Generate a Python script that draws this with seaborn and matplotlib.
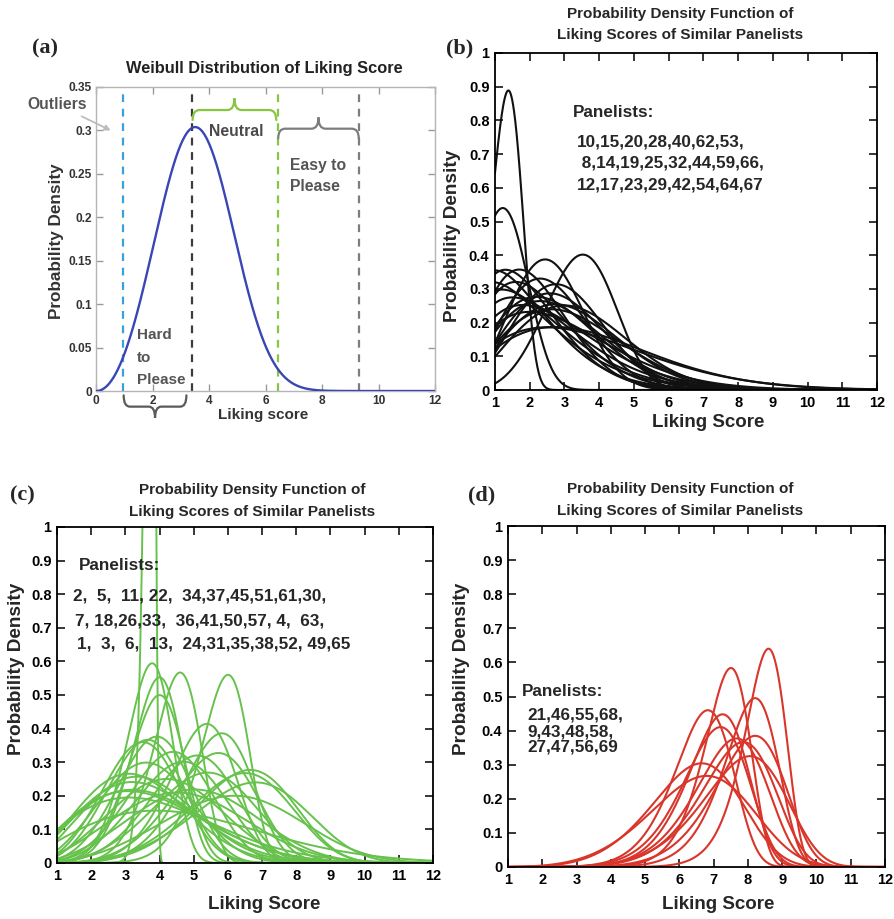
import numpy as np
import pandas as pd
import matplotlib
matplotlib.use("Agg")
import matplotlib.pyplot as plt
import seaborn as sns
from matplotlib.path import Path
from matplotlib.patches import PathPatch

# ---------------- data (Weibull parameters) ----------------
# (a) single Weibull curve and the cut-off lines
a_shape = [3.1]
a_scale = [3.98]
a_cut_x = [0.94, 3.39, 6.45, 9.3]
a_cut_colors = ["#3aa0d8", "#3c3c3c", "#88c540", "#7d7d7d"]
a_xticks = [0, 2, 4, 6, 8, 10, 12]
a_yticks = [0, 0.05, 0.1, 0.15, 0.2, 0.25, 0.3, 0.35]
a_ytick_labels = ["0", "0.05", "0.1", "0.15", "0.2", "0.25", "0.3", "0.35"]

# (b) hard-to-please cluster
b_shape = [6.0, 4.0, 4.0, 2.8, 2.0, 1.7, 1.5, 2.35, 2.6, 1.6, 2.0, 1.68,
           2.05, 1.7, 1.8, 1.5, 1.7, 1.4, 2.0, 1.8, 2.33, 2.3, 2.2]
b_scale = [2.52, 2.82, 3.79, 2.86, 2.40, 2.19, 2.10, 2.91, 3.32, 2.77, 3.25, 3.08,
           3.64, 3.37, 4.30, 2.50, 4.20, 2.30, 3.10, 2.51, 3.81, 3.30, 3.60]
b_loc = [-1.06, -1.40] + [0.0] * 21
b_panelists = ["10,15,20,28,40,62,53,", " 8,14,19,25,32,44,59,66,", "12,17,23,29,42,54,64,67"]

# (c) neutral cluster
c_shape = [28.0, 6.2, 7.17, 9.2, 6.1, 5.54, 6.15, 6.2, 4.15, 3.8, 5.2, 5.12, 4.85,
           2.58, 2.38, 4.0, 4.57, 4.1, 2.5, 2.2, 2.0, 2.0, 3.18, 3.06, 4.57, 3.13,
           4.1, 2.12, 2.8, 3.54, 3.6]
c_scale = [3.75, 3.89, 4.70, 6.08, 4.12, 4.15, 5.54, 5.99, 4.19, 3.96, 5.96, 6.94, 6.82,
           4.03, 4.03, 5.05, 5.39, 4.71, 3.8, 4.2, 4.4, 5.5, 5.65, 4.78, 7.19, 4.08,
           5.79, 4.17, 5.29, 6.8, 3.84]
c_panelists = ["2,  5,  11, 22,  34,37,45,51,61,30,",
               "7, 18,26,33,  36,41,50,57, 4,  63,",
               "1,  3,  6,  13,  24,31,35,38,52, 49,65"]

# (d) easy-to-please cluster
d_shape = [15.0, 11.95, 11.1, 8.6, 8.9, 8.1, 8.65, 7.93, 7.9, 7.2, 5.6, 5.05]
d_scale = [8.64, 7.56, 8.28, 6.93, 7.36, 7.32, 8.33, 7.80, 8.0, 8.23, 6.89, 7.1]
d_panelists = ["21,46,55,68,", "9,43,48,58,", "27,47,56,69"]

x_ticks = list(range(1, 13))
y_ticks = [0, 0.1, 0.2, 0.3, 0.4, 0.5, 0.6, 0.7, 0.8, 0.9, 1.0]
y_tick_labels = ["0", "0.1", "0.2", "0.3", "0.4", "0.5", "0.6", "0.7", "0.8", "0.9", "1"]

TITLE1 = "Probability Density Function of"
TITLE2 = "Liking Scores of Similar Panelists"

# ---------------- helpers ----------------
W, H = 894, 919


def fx(p):
    return p / W


def fy(p):
    return 1 - p / H


def axes_rect(l, t, r, b):
    return [fx(l), fy(b), (r - l) / W, (b - t) / H]


def weibull_pdf(x, k, lam, loc=0.0):
    z = np.clip((x - loc) / lam, 0, None)
    return np.where(x > loc, (k / lam) * z ** (k - 1) * np.exp(-z ** k), 0.0)


def curves_frame(shapes, scales, locs, x):
    parts = []
    for i, (k, lam, loc) in enumerate(zip(shapes, scales, locs)):
        parts.append(pd.DataFrame({"Liking Score": x,
                                   "Probability Density": weibull_pdf(x, k, lam, loc),
                                   "curve": i}))
    return pd.concat(parts, ignore_index=True)


def brace(ax, x0, x1, y_end, y_flat, y_tip, d, color, lw=1.6):
    xm = 0.5 * (x0 + x1)
    verts = [(x0, y_end), (x0, y_flat), (x0 + d, y_flat),
             (xm - d, y_flat), (xm, y_flat), (xm, y_tip),
             (xm, y_flat), (xm + d, y_flat),
             (x1 - d, y_flat), (x1, y_flat), (x1, y_end)]
    codes = [Path.MOVETO, Path.CURVE3, Path.CURVE3,
             Path.LINETO, Path.CURVE3, Path.CURVE3,
             Path.CURVE3, Path.CURVE3,
             Path.LINETO, Path.CURVE3, Path.CURVE3]
    patch = PathPatch(Path(verts, codes), fill=False, edgecolor=color, lw=lw,
                      clip_on=False, capstyle="round")
    ax.add_patch(patch)


def style_pdf_axes(ax):
    ax.set_xlim(1, 12)
    ax.set_ylim(0, 1)
    ax.set_xticks(x_ticks)
    ax.set_xticklabels([str(t) for t in x_ticks])
    ax.set_yticks(y_ticks)
    ax.set_yticklabels(y_tick_labels)
    ax.tick_params(direction="in", length=6, width=1.1, top=True, right=True,
                   labelsize=10.5, pad=4, colors="black")
    for lab in ax.get_xticklabels() + ax.get_yticklabels():
        lab.set_fontweight("bold")
    for s in ax.spines.values():
        s.set_visible(True)
        s.set_linewidth(1.3)
        s.set_color("black")


# ---------------- figure ----------------
sns.set_style("ticks")
plt.rcParams["font.family"] = ["Liberation Sans", "DejaVu Sans"]
plt.rcParams["font.weight"] = "bold"
plt.rcParams["axes.labelweight"] = "bold"

fig = plt.figure(figsize=(W / 100, H / 100), dpi=100)

# ---- (a) ----
ax_a = fig.add_axes(axes_rect(96, 87, 435, 391))
xa = np.linspace(0, 12, 1200)
df_a = curves_frame(a_shape, a_scale, [0.0], xa)
for xc, col in zip(a_cut_x, a_cut_colors):
    ax_a.axvline(xc, color=col, ls=(0, (3.5, 3)), lw=1.6, zorder=1)
sns.lineplot(data=df_a, x="Liking Score", y="Probability Density", units="curve",
             estimator=None, color="#3a46b4", lw=1.7, ax=ax_a, legend=False, sort=False, zorder=3)
ax_a.set_xlim(0, 12)
ax_a.set_ylim(0, 0.35)
ax_a.set_xticks(a_xticks)
ax_a.set_xticklabels([str(t) for t in a_xticks])
ax_a.set_yticks(a_yticks)
ax_a.set_yticklabels(a_ytick_labels)
ax_a.tick_params(direction="in", length=5, width=1, top=True, right=True,
                 labelsize=8.6, pad=3, color="#9a9a9a", labelcolor="#333333")
for s in ax_a.spines.values():
    s.set_visible(True)
    s.set_color("#b5b5b5")
    s.set_linewidth(1.0)
ax_a.set_xlabel("Liking score", fontsize=11, color="#333333", va="top")
ax_a.xaxis.set_label_coords(0.493, -0.056)
ax_a.set_ylabel("Probability Density", fontsize=12.3, color="#333333")
ax_a.yaxis.set_label_coords(-0.095, 0.494)

brace(ax_a, 3.42, 6.38, 0.312, 0.3235, 0.337, 0.25, "#88c540")
brace(ax_a, 6.45, 9.3, 0.291, 0.302, 0.315, 0.25, "#7d7d7d")
brace(ax_a, 0.98, 3.2, -0.005, -0.018, -0.031, 0.22, "#5a5a5a")
ax_a.text(4.98, 0.2985, "Neutral", ha="center", va="center", fontsize=11.3, color="#4a4a4a")
ax_a.text(6.87, 0.260, "Easy to", ha="left", va="center", fontsize=11.3, color="#555555")
ax_a.text(6.87, 0.235, "Please", ha="left", va="center", fontsize=11.3, color="#555555")
for yy, s in zip([0.0645, 0.0376, 0.0127], ["Hard", "to", "Please"]):
    ax_a.text(1.45, yy, s, ha="left", va="center", fontsize=11, color="#555555")
ax_a.annotate("Outliers", xy=(0.52, 0.300), xytext=(-1.38, 0.330), ha="center", va="center",
              fontsize=11.3, color="#555555", annotation_clip=False,
              arrowprops=dict(arrowstyle="-|>", color="#bdbdbd", lw=1.3,
                              shrinkA=2, shrinkB=0, mutation_scale=8))
fig.text(fx(264), fy(69), "Weibull Distribution of Liking Score", ha="center", va="center",
         fontsize=11.8, color="#222222")

# ---- (b), (c), (d) ----
xg = np.linspace(0.9, 12.1, 3000)
panels = [
    dict(rect=(495, 53, 877, 390), shapes=b_shape, scales=b_scale, locs=b_loc,
         color="#111111", lw=1.5, title_x=680, title_y=(14, 35),
         ylab=(-0.090, 0.457), xlab=(0.558, -0.071),
         head=(3.24, 0.823), lines=[(3.35, 0.737), (3.35, 0.673), (3.35, 0.608)],
         text=b_panelists),
    dict(rect=(57, 527, 433, 863), shapes=c_shape, scales=c_scale, locs=[0.0] * len(c_shape),
         color="#67c24d", lw=1.4, title_x=252, title_y=(490, 512),
         ylab=(-0.084, 0.577), xlab=(0.55, -0.098),
         head=(1.65, 0.884), lines=[(1.48, 0.795), (1.53, 0.721), (1.58, 0.652)],
         text=c_panelists),
    dict(rect=(508, 526, 885, 867), shapes=d_shape, scales=d_scale, locs=[0.0] * len(d_shape),
         color="#d9362b", lw=1.5, title_x=680, title_y=(489, 511),
         ylab=(-0.100, 0.58), xlab=(0.558, -0.086),
         head=(1.40, 0.516), lines=[(1.56, 0.446), (1.56, 0.397), (1.56, 0.351)],
         text=d_panelists),
]

for p in panels:
    ax = fig.add_axes(axes_rect(*p["rect"]))
    df = curves_frame(p["shapes"], p["scales"], p["locs"], xg)
    sns.lineplot(data=df, x="Liking Score", y="Probability Density", units="curve",
                 estimator=None, color=p["color"], lw=p["lw"], ax=ax, legend=False, sort=False)
    style_pdf_axes(ax)
    ax.set_xlabel("Liking Score", fontsize=13.5, va="top")
    ax.xaxis.set_label_coords(*p["xlab"])
    ax.set_ylabel("Probability Density", fontsize=13.7)
    ax.yaxis.set_label_coords(*p["ylab"])
    ax.text(p["head"][0], p["head"][1], "Panelists:", ha="left", va="center", fontsize=12.3)
    for (tx, ty), s in zip(p["lines"], p["text"]):
        ax.text(tx, ty, s, ha="left", va="center", fontsize=12.3)
    fig.text(fx(p["title_x"]), fy(p["title_y"][0]), TITLE1, ha="center", va="center", fontsize=11)
    fig.text(fx(p["title_x"]), fy(p["title_y"][1]), TITLE2, ha="center", va="center", fontsize=11)

# panel letters
for (px, py), lab in zip([(45, 48), (460, 48), (22, 495), (482, 495)], ["(a)", "(b)", "(c)", "(d)"]):
    fig.text(fx(px), fy(py), lab, ha="center", va="center", fontsize=16, weight="bold",
             family=["Liberation Serif", "DejaVu Serif"])

fig.savefig("out.png", dpi=100)
